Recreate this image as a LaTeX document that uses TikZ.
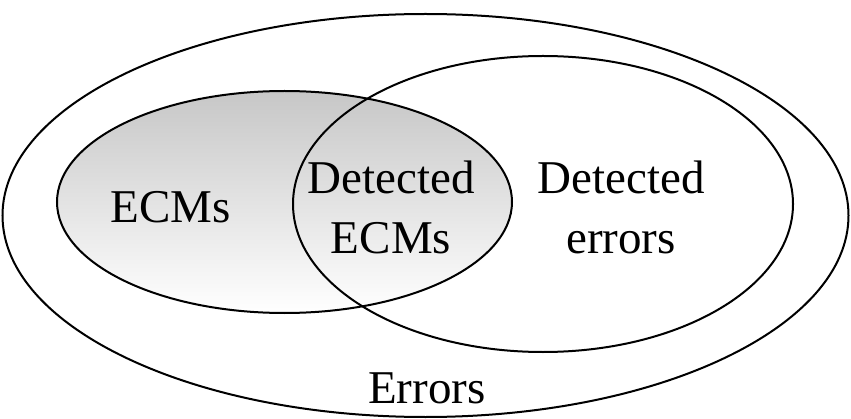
\documentclass[tikz,border=0pt]{standalone}
\usepackage{fontspec}
\setmainfont{Liberation Serif}
\begin{document}
\begin{tikzpicture}[x=1pt,y=1pt,
  setline/.style={draw=black,line width=2pt},
  lbl/.style={inner sep=0pt,align=center,font=\fontsize{47}{60}\selectfont}]
\useasboundingbox (0,0) rectangle (851,418);
\draw[setline] (425.5,202.5) ellipse [x radius=423,y radius=201.5];
\shade[top color=black!22,bottom color=white] (284.5,216) ellipse [x radius=227.5,y radius=111];
\draw[setline] (543,214) ellipse [x radius=250,y radius=148];
\draw[setline] (284.5,216) ellipse [x radius=227.5,y radius=111];
\node[lbl] (ecms) at (171,210.5) {ECMs};
\node[lbl] (detecms) at (391,211) {Detected\\ECMs};
\node[lbl] (deterr) at (621,211) {Detected\\errors};
\node[lbl,anchor=base] (errors) at (427,15) {Errors};
\end{tikzpicture}
\end{document}
